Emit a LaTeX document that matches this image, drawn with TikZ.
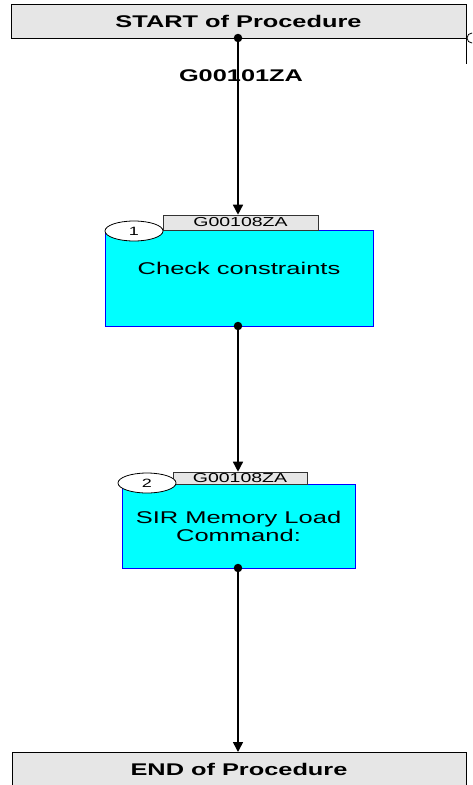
\documentclass[tikz,border=0pt]{standalone}
\usepackage{fontspec}
\setmainfont{Liberation Sans}[FakeStretch=1.5]
\usetikzlibrary{arrows.meta}
\definecolor{boxgray}{HTML}{E6E6E6}
\definecolor{stepcyan}{HTML}{00FFFF}
\tikzset{
  termbox/.style={draw=black, line width=1pt, fill=boxgray, inner sep=0pt,
    font=\fontsize{16.9}{19}\selectfont\bfseries},
  stepbox/.style={draw=blue, line width=0.8pt, fill=stepcyan, inner sep=0pt},
  steptext/.style={inner sep=0pt, align=center, font=\fontsize{17}{18}\selectfont},
  tabbox/.style={draw=black!80, line width=0.6pt, fill=boxgray, inner sep=0pt,
    font=\fontsize{13}{13}\selectfont},
  numell/.style={draw=black, line width=0.8pt, fill=white, ellipse, inner sep=0pt,
    minimum width=58pt, minimum height=20pt, font=\fontsize{12}{13}\selectfont},
  dot/.style={circle, fill=black, inner sep=0pt, minimum size=8.5pt},
  flow/.style={line width=1.5pt, -{Triangle[width=10pt,length=10pt]}},
  lbl/.style={inner sep=0pt, font=\fontsize{16.9}{19}\selectfont\bfseries}
}
\usetikzlibrary{shapes.geometric}
\begin{document}
\begin{tikzpicture}[x=1pt, y=-1pt]
\useasboundingbox (0,0) rectangle (472,785);
\clip (0,0) rectangle (472,785);
% terminals
\node[termbox, minimum width=455pt, minimum height=34pt] (start) at (238.5,21) {START of Procedure};
\node[termbox, minimum width=454pt, minimum height=34pt, anchor=north] (end) at (239,752) {END of Procedure};
% right-side fragment
\coordinate (rs) at (466,38);
\coordinate (re) at (466,64);
\draw[line width=1pt] (rs) -- (re);
\node[circle, draw=black, line width=0.8pt, minimum size=10pt, inner sep=0pt] (rc) at (472,38) {};
% step 1
\node[stepbox, minimum width=268pt, minimum height=96pt] (b1) at (239,278) {};
\node[steptext] (t1) at (239,268) {Check constraints};
\node[tabbox, minimum width=155pt, minimum height=15pt] (tab1) at (240.5,222.5) {G00108ZA};
\node[numell] (n1) at (134,231) {1};
% step 2
\node[stepbox, minimum width=233pt, minimum height=84pt] (b2) at (238.5,526) {};
\node[steptext] (t2) at (238.5,526) {SIR Memory Load\\Command:};
\node[tabbox, minimum width=134pt, minimum height=12pt] (tab2) at (240,478) {G00108ZA};
\node[numell] (n2) at (147,483) {2};
% connectors
\node[dot] (d0) at (238,38) {};
\node[dot] (d1) at (238,326) {};
\node[dot] (d2) at (238,568) {};
\draw[flow] (d0.center) -- (d0.center |- tab1.north);
\draw[flow] (d1.center) -- (d1.center |- tab2.north);
\draw[flow] (d2.center) -- (d2.center |- end.north);
\node[lbl] (l0) at (241,76) {G00101ZA};
\end{tikzpicture}
\end{document}
